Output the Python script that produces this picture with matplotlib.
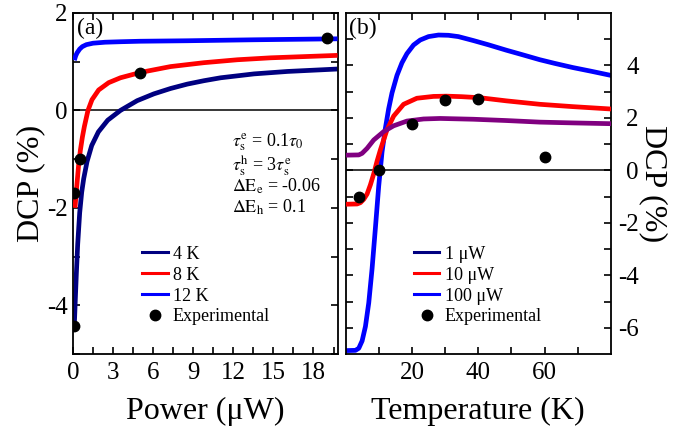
import matplotlib
matplotlib.use("Agg")
import matplotlib.pyplot as plt
from matplotlib.lines import Line2D
from matplotlib.ticker import MultipleLocator, FixedLocator

plt.rcParams['font.family'] = ['Liberation Serif', 'DejaVu Serif']
plt.rcParams['mathtext.fontset'] = 'stix'
plt.rcParams['axes.unicode_minus'] = False

# ---------------- (a) DCP vs excitation power ----------------
power_4K = [0.10, 0.17, 0.25, 0.35, 0.50, 0.65, 0.80, 1.05, 1.40, 1.90, 2.60,
            3.55, 4.80, 6.05, 7.30, 8.55, 9.80, 11.05, 13.55, 16.05, 19.80]
dcp_4K = [-4.40, -3.90, -3.35, -2.75, -2.10, -1.68, -1.40, -1.05, -0.72, -0.44, -0.20,
          0.00, 0.20, 0.34, 0.45, 0.54, 0.61, 0.67, 0.75, 0.80, 0.85]

power_8K = [0.15, 0.22, 0.30, 0.42, 0.55, 0.70, 0.85, 1.12, 1.42, 1.92, 2.67,
            3.55, 5.05, 7.30, 9.80, 12.30, 14.80, 19.80]
dcp_8K = [-2.00, -1.75, -1.50, -1.12, -0.82, -0.55, -0.33, 0.00, 0.22, 0.42, 0.57,
          0.67, 0.78, 0.90, 0.98, 1.04, 1.08, 1.13]

power_12K = [0.10, 0.20, 0.30, 0.50, 0.70, 1.00, 1.50, 2.40, 3.55, 5.00, 8.55, 13.55, 19.80]
dcp_12K = [1.03, 1.12, 1.18, 1.26, 1.31, 1.35, 1.38, 1.40, 1.41, 1.42, 1.43, 1.45, 1.47]

power_exp = [0.10, 0.10, 0.55, 5.0, 19.0]
dcp_power_exp = [-4.43, -1.70, -1.00, 0.77, 1.48]

# ---------------- (b) DCP vs temperature ----------------
temp_1uW = [0, 4.0, 5.0, 6.5, 8.5, 11.5, 14.5, 18.5, 23.5, 28.5, 38.5, 48.5, 58.5, 68.5, 80]
dcp_1uW = [0.58, 0.59, 0.65, 0.84, 1.16, 1.48, 1.70, 1.88, 1.96, 1.98, 1.95, 1.90, 1.84, 1.81, 1.78]

temp_10uW = [0, 3.5, 4.5, 5.5, 6.5, 7.5, 8.5, 9.5, 10.5, 12.5, 14.5, 17.5, 21.5, 26.5,
             30.5, 35, 40.5, 48.5, 58.5, 68.5, 80]
dcp_10uW = [-1.29, -1.28, -1.23, -1.10, -0.90, -0.55, -0.13, 0.35, 0.78, 1.55, 2.07, 2.52,
            2.75, 2.82, 2.83, 2.81, 2.77, 2.65, 2.52, 2.43, 2.34]

temp_100uW = [0, 3, 4, 5, 6, 7, 8, 9, 10, 11, 12, 13, 14, 15.5, 17, 18.5, 20.5, 22.5, 25,
              28, 31, 34, 38.5, 43, 48.5, 53, 58.5, 63, 68.5, 74, 80]
dcp_100uW = [-6.87, -6.86, -6.78, -6.50, -5.95, -5.05, -3.75, -2.20, -0.60, 0.70, 1.60,
             2.35, 2.95, 3.62, 4.10, 4.45, 4.78, 4.97, 5.10, 5.16, 5.15, 5.10, 4.95, 4.79,
             4.58, 4.42, 4.22, 4.08, 3.92, 3.78, 3.62]

temp_exp = [4, 10, 20, 30, 40, 60]
dcp_temp_exp = [-1.00, 0.00, 1.78, 2.69, 2.74, 0.52]

NAVY, RED, BLUE, PURPLE = '#000080', '#ff0000', '#0000ff', '#800080'
LW = 3.4
MS = 7.5

fig = plt.figure(figsize=(7.0, 4.33), dpi=100)
ax1 = fig.add_axes([0.1043, 0.1824, 0.3779, 0.7876])
ax2 = fig.add_axes([0.4936, 0.1824, 0.3793, 0.7876])

# panel (a)
ax1.axhline(0, color='black', lw=1.1, zorder=1)
ax1.plot(power_4K, dcp_4K, color=NAVY, lw=LW, solid_capstyle='butt', zorder=2)
ax1.plot(power_8K, dcp_8K, color=RED, lw=LW, solid_capstyle='butt', zorder=3)
ax1.plot(power_12K, dcp_12K, color=BLUE, lw=LW, solid_capstyle='butt', zorder=4)
ax1.plot(power_exp, dcp_power_exp, 'o', color='black', ms=MS, zorder=5)
ax1.set_xlim(0, 19.8)
ax1.set_ylim(-5, 2)
ax1.xaxis.set_major_locator(MultipleLocator(3))
ax1.xaxis.set_minor_locator(MultipleLocator(1.5))
ax1.yaxis.set_major_locator(MultipleLocator(2))
ax1.yaxis.set_minor_locator(MultipleLocator(1))
ax1.set_xlabel('Power (μW)', fontsize=23)
ax1.set_ylabel('DCP (%)', fontsize=23)
ax1.yaxis.set_label_coords(-0.105, 0.5)
ax1.xaxis.set_label_coords(0.5, -0.125)
ax1.text(0.015, 0.985, '(a)', transform=ax1.transAxes, fontsize=17, va='top', ha='left')

params_txt = [r'$\tau_{\rm s}^{\rm e}$ = 0.1$\tau_0$',
              r'$\tau_{\rm s}^{\rm h}$ = 3$\tau_{\rm s}^{\rm e}$',
              r'$\Delta{\rm E}_{\rm e}$ = -0.06',
              r'$\Delta{\rm E}_{\rm h}$ = 0.1']
params_y = [0.622, 0.551, 0.491, 0.430]
for s, yy in zip(params_txt, params_y):
    ax1.text(0.601, yy, s, transform=ax1.transAxes, fontsize=13,
             va='center', ha='left')

handles_a = [Line2D([], [], color=NAVY, lw=2.2),
             Line2D([], [], color=RED, lw=2.2),
             Line2D([], [], color=BLUE, lw=2.2),
             Line2D([], [], color='black', marker='o', ls='none', ms=MS)]
ax1.legend(handles_a, ['4 K', '8 K', '12 K', 'Experimental'], loc='upper left',
           bbox_to_anchor=(0.262, 0.318), frameon=False, fontsize=13, handlelength=1.4,
           handletextpad=0.3, labelspacing=0.22, borderpad=0, borderaxespad=0)

# panel (b)
ax2.axhline(0, color='black', lw=1.1, zorder=1)
ax2.plot(temp_100uW, dcp_100uW, color=BLUE, lw=LW, zorder=2)
ax2.plot(temp_10uW, dcp_10uW, color=RED, lw=LW, zorder=3)
ax2.plot(temp_1uW, dcp_1uW, color=PURPLE, lw=LW, zorder=4)
ax2.plot(temp_exp, dcp_temp_exp, 'o', color='black', ms=MS, zorder=5)
ax2.set_xlim(0, 80)
ax2.set_ylim(-7, 6)
ax2.xaxis.set_major_locator(FixedLocator([20, 40, 60]))
ax2.xaxis.set_minor_locator(FixedLocator([10, 30, 50, 70]))
ax2.yaxis.set_major_locator(FixedLocator([-6, -4, -2, 0, 2, 4]))
ax2.yaxis.set_minor_locator(FixedLocator([-5, -3, -1, 1, 3, 5]))
ax2.yaxis.tick_right()
ax2.yaxis.set_label_position('right')
ax2.set_xlabel('Temperature (K)', fontsize=23)
ax2.set_ylabel('DCP (%)', fontsize=23, rotation=270, va='bottom')
ax2.yaxis.set_label_coords(1.105, 0.5)
ax2.xaxis.set_label_coords(0.5, -0.125)
ax2.text(0.012, 0.985, '(b)', transform=ax2.transAxes, fontsize=17, va='top', ha='left')

handles_b = [Line2D([], [], color=NAVY, lw=2.2),
             Line2D([], [], color=RED, lw=2.2),
             Line2D([], [], color=BLUE, lw=2.2),
             Line2D([], [], color='black', marker='o', ls='none', ms=MS)]
ax2.legend(handles_b, ['1 μW', '10 μW', '100 μW', 'Experimental'], loc='upper left',
           bbox_to_anchor=(0.258, 0.318), frameon=False, fontsize=13, handlelength=1.4,
           handletextpad=0.3, labelspacing=0.22, borderpad=0, borderaxespad=0)

for ax in (ax1, ax2):
    for sp in ax.spines.values():
        sp.set_linewidth(1.3)
    ax.tick_params(which='both', direction='in', length=5, width=1.2,
                   top=True, bottom=True, left=True, right=True, labelsize=18)
    ax.tick_params(axis='x', which='both', pad=6)

ax1.tick_params(axis='y', which='both', labelleft=True, labelright=False, pad=4)
ax2.tick_params(axis='y', which='both', labelleft=False, labelright=True, pad=20)
for lab in ax2.get_yticklabels():
    lab.set_horizontalalignment('right')

fig.savefig('out.png', dpi=100)
